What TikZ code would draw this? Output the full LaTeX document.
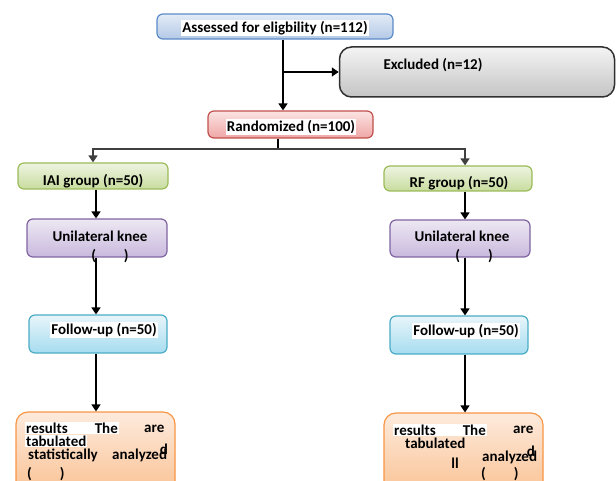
\documentclass[tikz,border=0pt]{standalone}
\usepackage{fontspec}
\setmainfont{Carlito}
\usetikzlibrary{arrows.meta}

\definecolor{bluebd}{HTML}{5B8BC9}
\definecolor{bluetop}{HTML}{E3EBF6}
\definecolor{bluebot}{HTML}{B4C9E6}
\definecolor{greybd}{HTML}{303030}
\definecolor{greytop}{HTML}{F4F4F4}
\definecolor{greybot}{HTML}{C4C4C4}
\definecolor{redbd}{HTML}{C0504D}
\definecolor{redtop}{HTML}{FBE4E3}
\definecolor{redbot}{HTML}{EFA6A4}
\definecolor{greenbd}{HTML}{9BBB59}
\definecolor{greentop}{HTML}{EEF4E1}
\definecolor{greenbot}{HTML}{C8DC9E}
\definecolor{purplebd}{HTML}{8064A2}
\definecolor{purpletop}{HTML}{EDE8F3}
\definecolor{purplebot}{HTML}{C9B9DD}
\definecolor{cyanbd}{HTML}{4BACC6}
\definecolor{cyantop}{HTML}{E8F5FA}
\definecolor{cyanbot}{HTML}{A6DCEF}
\definecolor{orangebd}{HTML}{F79646}
\definecolor{orangetop}{HTML}{FDEBDD}
\definecolor{orangebot}{HTML}{FABE8C}

\tikzset{
  stage/.style n args={3}{draw=#1, top color=#2, bottom color=#3, rounded corners=6pt, line width=1.2pt, inner sep=0pt},
  hl/.style={fill=white, inner sep=1pt},
  plain/.style={inner sep=0pt},
  arrow/.style={line width=1.3pt, -{Triangle[width=9pt,length=7pt]}},
  link/.style={line width=1.3pt}
}

\begin{document}
\begin{tikzpicture}[x=1pt, y=-1pt, font=\fontsize{15}{16}\selectfont\bfseries]
    \clip (0,0) rectangle (616,481);
    \coordinate (colL) at (96,0);
    \coordinate (colR) at (465,0);
    % screening
    \node[stage={bluebd}{bluetop}{bluebot}, minimum width=236pt, minimum height=25pt] (assessed) at (275,26.5) {};
    \node[hl] (assessedtxt) at (275,28) {Assessed for eligbility (n=112)};
    \node[stage={greybd}{greytop}{greybot}, rounded corners=12pt, line width=1.5pt, minimum width=275pt, minimum height=50pt] (excluded) at (477,72) {};
    \node[plain] (excludedtxt) at (433,65) {Excluded (n=12)};
    \node[stage={redbd}{redtop}{redbot}, minimum width=165pt, minimum height=27pt] (randomized) at (290.5,124.5) {};
    \node[hl] (randomizedtxt) at (291,127) {Randomized (n=100)};
    % IAI arm
    \node[stage={greenbd}{greentop}{greenbot}, minimum width=150pt, minimum height=26pt] (iai) at (93,176) {};
    \node[plain] (iaitxt) at (93,181) {IAI group (n=50)};
    \node[stage={purplebd}{purpletop}{purplebot}, minimum width=140pt, minimum height=38pt] (kneeL) at (97,238) {};
    \node[plain] (kneeLtxt) at (100,236) {Unilateral knee};
    \node[plain] (kneeLpar) at (110,256) {(\hspace{28pt})};
    \node[stage={cyanbd}{cyantop}{cyanbot}, minimum width=138pt, minimum height=38pt] (followL) at (98,334) {};
    \node[hl] (followLtxt) at (104,330) {Follow-up (n=50)};
    \node[stage={orangebd}{orangetop}{orangebot}, rounded corners=12pt, minimum width=159pt, minimum height=90pt] (resultsL) at (95.5,457) {};
    \node[hl, anchor=west] (resL1) at (25,428) {results\hspace{27pt}The};
    \node[plain, anchor=west] (resL1b) at (144,429) {are};
    \node[hl, anchor=west] (resL2) at (25,441) {tabulated};
    \node[plain, anchor=west] (resL3) at (28,455) {statistically};
    \node[plain, anchor=west] (resL3b) at (112,455) {analyzed};
    \node[plain] (resL3c) at (164,449) {d};
    \node[plain, anchor=west] (resL4) at (27,474) {(\hspace{28pt})};
    % RF arm
    \node[stage={greenbd}{greentop}{greenbot}, minimum width=148pt, minimum height=25pt] (rf) at (458,178.5) {};
    \node[plain] (rftxt) at (459,183) {RF group (n=50)};
    \node[stage={purplebd}{purpletop}{purplebot}, minimum width=140pt, minimum height=37pt] (kneeR) at (460,238.5) {};
    \node[plain] (kneeRtxt) at (462,236) {Unilateral knee};
    \node[plain] (kneeRpar) at (474,256) {(\hspace{28pt})};
    \node[stage={cyanbd}{cyantop}{cyanbot}, minimum width=138pt, minimum height=38pt] (followR) at (459,335) {};
    \node[hl] (followRtxt) at (466,331) {Follow-up (n=50)};
    \node[stage={orangebd}{orangetop}{orangebot}, rounded corners=12pt, minimum width=159pt, minimum height=90pt] (resultsR) at (463.5,458) {};
    \node[hl, anchor=west] (resR1) at (393,430) {results\hspace{27pt}The};
    \node[plain, anchor=west] (resR1b) at (513,430) {are};
    \node[plain, anchor=west] (resR2) at (405,443) {tabulated};
    \node[plain] (resR3) at (455,463) {ll};
    \node[plain, anchor=west] (resR3b) at (482,457) {analyzed};
    \node[plain] (resR3c) at (531,451) {d};
    \node[plain, anchor=west] (resR4) at (481,474) {(\hspace{28pt})};
    % connectors
    \coordinate (split) at (283,72);
    \draw[link] (assessed.south -| split) -- (split);
    \draw[arrow] (split) -- (split |- randomized.north);
    \draw[arrow] (split) -- (excluded.west |- split);
    \coordinate (fork) at (278,149);
    \draw[link] (randomized.south -| fork) -- (fork);
    \draw[arrow, draw=black!75] (fork) -| (iai.north);
    \draw[arrow, draw=black!75] (fork) -| (rf.north -| colR);
    \draw[arrow] (iai.south -| colL) -- (kneeL.north -| colL);
    \draw[arrow] (kneeL.south -| colL) -- (followL.north -| colL);
    \draw[arrow] (followL.south -| colL) -- (resultsL.north -| colL);
    \draw[arrow] (rf.south -| colR) -- (kneeR.north -| colR);
    \draw[arrow] (kneeR.south -| colR) -- (followR.north -| colR);
    \draw[arrow] (followR.south -| colR) -- (resultsR.north -| colR);
\end{tikzpicture}
\end{document}
